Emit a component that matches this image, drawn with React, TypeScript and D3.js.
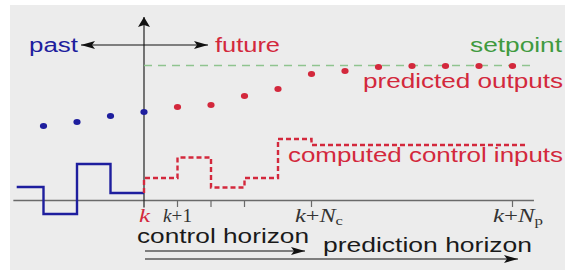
import { useMemo } from 'react';
import * as d3 from 'd3';

// time steps are counted from k (= 0); values are heights above the time axis
const pastInputT = [-3.8, -3, -2, -1, 0];
const pastInputU = [13.5, -13.5, 36.5, 7.5, 7.5];
const futureInputT = [0, 0, 1, 2, 3, 4, 5, 11.45];
const futureInputU = [7.5, 22.5, 43, 13, 22.5, 61.5, 55.5, 55.5];
const pastOutputT = [-3, -2, -1, 0];
const pastOutputY = [74.5, 78.5, 84.5, 88.5];
const predT = [1, 2, 3, 4, 5, 6, 7, 8, 9, 10, 11];
const predY = [93.5, 95.5, 104.5, 111.5, 126.5, 129.5, 133.5, 134.5, 134.5, 134.5, 134.5];
const setpoint = 135;
const tickSteps = [1, 2, 3, 5, 11];

const BLUE = '#1e1e9e';
const RED = '#d3283c';
const GREEN = '#3f9a3f';
const SANS = '"Liberation Sans", Arial, sans-serif';
const SERIF = '"Liberation Serif", "Times New Roman", serif';

export default function App() {
  const W = 565;
  const H = 270;

  const x = useMemo(() => d3.scaleLinear().domain([0, 11]).range([144, 512.5]), []);
  const y = useMemo(() => d3.scaleLinear().domain([0, 135]).range([200.5, 65.5]), []);

  const step = d3.line<[number, number]>()
    .x(d => x(d[0]))
    .y(d => y(d[1]))
    .curve(d3.curveStepAfter);

  const pastPath = step(pastInputT.map((t, i) => [t, pastInputU[i]]) as [number, number][]) || '';
  const futurePath = step(futureInputT.map((t, i) => [t, futureInputU[i]]) as [number, number][]) || '';

  const x0 = x(0);
  const axisY = y(0);

  return (
    <>
      <style>{'body{margin:0}'}</style>
      <svg width={W} height={H} style={{ display: 'block' }}>
        <defs>
          <marker id="ah" viewBox="0 0 14 8" refX="14" refY="4" markerWidth="14" markerHeight="8"
            markerUnits="userSpaceOnUse" orient="auto-start-reverse">
            <path d="M0,0 L14,4 L0,8 L3,4 Z" fill="#111" />
          </marker>
          <marker id="ahv" viewBox="0 0 10 12" refX="10" refY="6" markerWidth="10" markerHeight="12"
            markerUnits="userSpaceOnUse" orient="auto">
            <path d="M0,0 L10,6 L0,12 L2,6 Z" fill="#111" />
          </marker>
        </defs>
        <rect x={0} y={0} width={W} height={H} fill="#fff" />
        <rect x={10} y={5} width={W - 10} height={H - 5} fill="#ececec" />

        {/* time axis */}
        <line x1={x(-3.9)} x2={x(11.64)} y1={axisY} y2={axisY} stroke="#6a6a6a" strokeWidth={1.3} />
        {tickSteps.map(t => (
          <line key={t} x1={x(t)} x2={x(t)} y1={axisY} y2={axisY + 6.5} stroke="#6a6a6a" strokeWidth={1.2} />
        ))}
        {/* vertical "now" axis */}
        <line x1={x0} x2={x0} y1={axisY + 7} y2={17} stroke="#222" strokeWidth={1.2} markerEnd="url(#ahv)" />
        {/* past / future arrows */}
        <line x1={81} x2={208} y1={45} y2={45} stroke="#111" strokeWidth={1.2}
          markerStart="url(#ah)" markerEnd="url(#ah)" />

        {/* setpoint */}
        <line x1={x0} x2={x(11.55)} y1={y(setpoint)} y2={y(setpoint)}
          stroke="#8fc48f" strokeWidth={1.3} strokeDasharray="8,6" />

        {/* inputs */}
        <path d={pastPath} fill="none" stroke={BLUE} strokeWidth={2.4} />
        <path d={futurePath} fill="none" stroke={RED} strokeWidth={2.4} strokeDasharray="5,3" />

        {/* outputs */}
        {pastOutputT.map((t, i) => (
          <ellipse key={'p' + t} cx={x(t)} cy={y(pastOutputY[i])} rx={3.6} ry={3} fill={BLUE} />
        ))}
        {predT.map((t, i) => (
          <ellipse key={'f' + t} cx={x(t)} cy={y(predY[i])} rx={3.6} ry={3} fill={RED} />
        ))}

        {/* labels */}
        <g fontFamily={SANS} fontSize={19.5}>
          <text x={29} y={52} fill={BLUE} textLength={49} lengthAdjust="spacingAndGlyphs">past</text>
          <text x={215} y={52} fill={RED} textLength={65} lengthAdjust="spacingAndGlyphs">future</text>
          <text x={470} y={52} fill={GREEN} textLength={92} lengthAdjust="spacingAndGlyphs">setpoint</text>
          <text x={363} y={88} fill={RED} textLength={200} lengthAdjust="spacingAndGlyphs">predicted outputs</text>
          <text x={288} y={162} fill={RED} textLength={275} lengthAdjust="spacingAndGlyphs">computed control inputs</text>
          <text x={137} y={243} fill="#1a1a1a" textLength={172} lengthAdjust="spacingAndGlyphs">control horizon</text>
          <text x={323} y={252} fill="#1a1a1a" textLength={209} lengthAdjust="spacingAndGlyphs">prediction horizon</text>
        </g>
        <g fontFamily={SERIF} fontSize={19} fill="#333">
          <text x={139} y={222} fill={RED} fontStyle="italic" textLength={11} lengthAdjust="spacingAndGlyphs">k</text>
          <text x={163} y={222} textLength={29} lengthAdjust="spacingAndGlyphs">
            <tspan fontStyle="italic">k</tspan>+1
          </text>
          <text x={295} y={222} textLength={48} lengthAdjust="spacingAndGlyphs">
            <tspan fontStyle="italic">k</tspan>+<tspan fontStyle="italic">N</tspan>
            <tspan fontSize={13} dy={3}>c</tspan>
          </text>
          <text x={493} y={222} textLength={50} lengthAdjust="spacingAndGlyphs">
            <tspan fontStyle="italic">k</tspan>+<tspan fontStyle="italic">N</tspan>
            <tspan fontSize={13} dy={3}>p</tspan>
          </text>
        </g>

        {/* horizon arrows */}
        <line x1={x0 + 1} x2={305} y1={251} y2={251} stroke="#111" strokeWidth={1.2} markerEnd="url(#ah)" />
        <line x1={x0 + 1} x2={518} y1={259} y2={259} stroke="#111" strokeWidth={1.2} markerEnd="url(#ah)" />
      </svg>
    </>
  );
}
